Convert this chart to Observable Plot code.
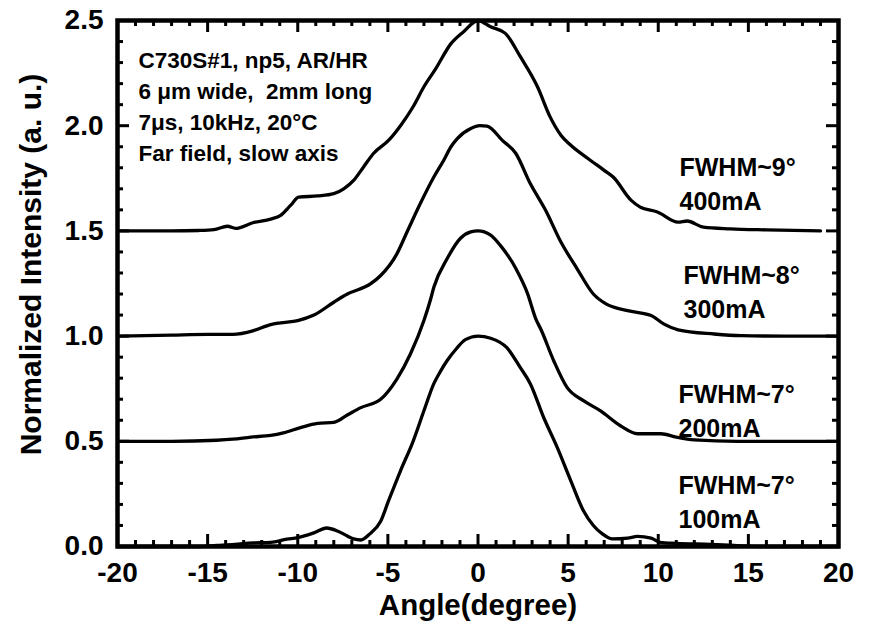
<!DOCTYPE html>
<html>
<head>
<meta charset="utf-8">
<script src="https://cdn.jsdelivr.net/npm/d3@7"></script>
<script src="https://cdn.jsdelivr.net/npm/@observablehq/plot@0.6"></script>
<style>
  html, body { margin: 0; padding: 0; background: #fff; }
  #chart { width: 873px; height: 627px; }
  #chart svg text { white-space: pre; }
</style>
</head>
<body>
<div id="chart"></div>
<script>
// ---- data ----
const angle100 = [-20, -17, -15.5, -14.5, -13.5, -12.5, -11.5, -10.6, -10.0, -9.1, -8.4, -7.8, -7.25, -6.9, -6.5, -6.0, -5.4, -4.95, -4.3, -3.6, -3.0, -2.45, -2.1, -1.7, -1.2, -0.7, 0, 0.7, 1.6, 2.35, 2.9, 3.65, 4.4, 5.15, 5.85, 6.4, 6.9, 7.45, 8.3, 8.85, 9.6, 10.1, 11.0, 12.9, 14.2, 16, 20];
const int100   = [0, 0, 0, 0.005, 0.01, 0.017, 0.02, 0.035, 0.042, 0.065, 0.088, 0.074, 0.05, 0.036, 0.031, 0.06, 0.12, 0.22, 0.36, 0.50, 0.645, 0.774, 0.83, 0.885, 0.94, 0.983, 1.0, 0.99, 0.945, 0.85, 0.774, 0.612, 0.47, 0.312, 0.17, 0.10, 0.06, 0.036, 0.04, 0.048, 0.04, 0.02, 0.015, 0.01, 0.005, 0, 0];

const angle200 = [-20, -17, -14.5, -13.6, -12.6, -11.5, -10.8, -9.85, -8.9, -8.0, -7.25, -6.5, -5.4, -4.5, -3.75, -3.0, -2.65, -2.45, -1.7, -0.97, -0.4, 0, 0.7, 1.25, 2.1, 2.75, 3.2, 3.5, 4.2, 4.95, 5.85, 6.8, 7.9, 8.85, 10.15, 11.0, 12.0, 14.4, 17, 20];
const int200   = [0.5, 0.5, 0.505, 0.51, 0.52, 0.528, 0.54, 0.565, 0.585, 0.59, 0.625, 0.66, 0.70, 0.796, 0.915, 1.074, 1.169, 1.232, 1.37, 1.465, 1.495, 1.5, 1.48, 1.43, 1.321, 1.202, 1.083, 1.03, 0.883, 0.755, 0.693, 0.645, 0.574, 0.536, 0.536, 0.52, 0.507, 0.5, 0.5, 0.5];

const angle300 = [-20, -17, -15, -13.6, -12.45, -11.5, -10.95, -10.0, -9.1, -8.0, -7.25, -5.95, -5.4, -4.5, -3.9, -3.2, -2.45, -1.9, -1.5, -1.15, -0.4, 0.1, 0.5, 1.35, 2.1, 2.9, 3.75, 4.6, 5.5, 6.4, 7.1, 8.3, 9.6, 10.3, 11.1, 13.1, 14.6, 17, 20];
const int300   = [1.0, 1.005, 1.008, 1.008, 1.026, 1.055, 1.063, 1.074, 1.1, 1.161, 1.20, 1.249, 1.288, 1.391, 1.502, 1.63, 1.756, 1.836, 1.90, 1.939, 1.987, 2.0, 1.998, 1.93, 1.868, 1.725, 1.598, 1.447, 1.32, 1.20, 1.153, 1.121, 1.098, 1.058, 1.03, 1.01, 1.002, 1.0, 1.0];

const angle400 = [-20, -17, -15.5, -14.65, -13.9, -13.45, -12.45, -11.5, -10.95, -10.4, -9.95, -8.9, -8.0, -7.45, -6.9, -6.35, -5.8, -4.95, -4.3, -3.6, -3.0, -2.35, -1.5, -0.8, 0, 0.7, 1.5, 2.35, 3.3, 4.0, 4.6, 5.15, 6.1, 7.0, 7.5, 8.5, 9.0, 9.95, 11.1, 11.6, 12.5, 14.0, 16.0, 19.0];
const int400   = [1.5, 1.5, 1.502, 1.506, 1.522, 1.512, 1.54, 1.556, 1.574, 1.621, 1.66, 1.666, 1.677, 1.70, 1.74, 1.804, 1.868, 1.931, 2.0, 2.09, 2.185, 2.27, 2.39, 2.447, 2.5, 2.47, 2.44, 2.328, 2.185, 2.042, 1.955, 1.907, 1.844, 1.788, 1.756, 1.645, 1.613, 1.59, 1.542, 1.547, 1.518, 1.51, 1.505, 1.5];

const currents = ["100mA", "200mA", "300mA", "400mA"];
const fwhmLabels = ["FWHM~7°\n100mA", "FWHM~7°\n200mA", "FWHM~8°\n300mA", "FWHM~9°\n400mA"];
const infoLines = ["C730S#1, np5, AR/HR", "6 μm wide,  2mm long", "7μs, 10kHz, 20°C", "Far field, slow axis"];

const xMajor = [-20, -15, -10, -5, 0, 5, 10, 15, 20];
const xMinor = d3.range(-20, 21, 1).filter(v => v % 5 !== 0);
const yMajor = [0, 0.5, 1.0, 1.5, 2.0, 2.5];
const yMinor = d3.range(0, 26, 1).filter(v => v % 5 !== 0).map(v => v / 10);

const xLabel = "Angle(degree)";
const yLabel = "Normalized Intensity (a. u.)";

// ---- build table ----
const seriesAngles = [angle100, angle200, angle300, angle400];
const seriesInts = [int100, int200, int300, int400];
const rows = [];
currents.forEach((c, k) => {
  seriesAngles[k].forEach((a, i) => rows.push({current: c, angle: a, intensity: seriesInts[k][i]}));
});

const W = 873, H = 627;
const mL = 117, mR = 35, mT = 20, mB = 81;
const pw = W - mL - mR, ph = H - mT - mB;
const font = "'Liberation Sans', Arial, Helvetica, sans-serif";
const majorLen = 12, minorLen = 6;

// label offsets (layout), one per curve label
const labelDx = [561, 561, 566, 562];
const labelDy = [450, 359, 240, 132];

const marks = [
  Plot.line(rows, {x: "angle", y: "intensity", z: "current", stroke: "black", strokeWidth: 3.3, curve: "monotone-x", strokeLinejoin: "round"}),
  // inward ticks: bottom & top
  Plot.tickX(xMajor, {x: d => d, stroke: "black", strokeWidth: 3, insetTop: ph - majorLen}),
  Plot.tickX(xMinor, {x: d => d, stroke: "black", strokeWidth: 3, insetTop: ph - minorLen}),
  Plot.tickX(xMajor, {x: d => d, stroke: "black", strokeWidth: 3, insetBottom: ph - majorLen}),
  Plot.tickX(xMinor, {x: d => d, stroke: "black", strokeWidth: 3, insetBottom: ph - minorLen}),
  // inward ticks: left & right
  Plot.tickY(yMajor, {y: d => d, stroke: "black", strokeWidth: 3, insetRight: pw - majorLen}),
  Plot.tickY(yMinor, {y: d => d, stroke: "black", strokeWidth: 3, insetRight: pw - minorLen}),
  Plot.tickY(yMajor, {y: d => d, stroke: "black", strokeWidth: 3, insetLeft: pw - majorLen}),
  Plot.tickY(yMinor, {y: d => d, stroke: "black", strokeWidth: 3, insetLeft: pw - minorLen}),
  Plot.frame({stroke: "black", strokeWidth: 4.5}),
  Plot.axisX({ticks: xMajor, tickSize: 0, tickPadding: 16, fontSize: 28, fontWeight: "bold", tickFormat: d => String(d), label: null}),
  Plot.axisY({ticks: yMajor, tickSize: 0, tickPadding: 14, fontSize: 28, fontWeight: "bold", tickFormat: d => d.toFixed(1), label: null}),
  Plot.text([xLabel], {text: d => d, frameAnchor: "bottom", lineAnchor: "middle", textAnchor: "middle", dy: 59, fontSize: 29.5, fontWeight: "bold"}),
  Plot.text([yLabel], {text: d => d, frameAnchor: "left", lineAnchor: "middle", textAnchor: "middle", rotate: -90, dx: -86, dy: -19, fontSize: 30, fontWeight: "bold"}),
  Plot.text([infoLines.join("\n")], {text: d => d, frameAnchor: "top-left", lineAnchor: "top", textAnchor: "start", dx: 21, dy: 25, lineHeight: 1.38, fontSize: 22.5, fontWeight: "bold"}),
  ...fwhmLabels.map((t, k) => Plot.text([t], {text: d => d, frameAnchor: "top-left", lineAnchor: "top", textAnchor: "start", dx: labelDx[k], dy: labelDy[k], lineHeight: 1.34, fontSize: 25, fontWeight: "bold"}))
];

const chart = Plot.plot({
  width: W, height: H,
  marginLeft: mL, marginRight: mR, marginTop: mT, marginBottom: mB,
  x: {domain: [-20, 20]},
  y: {domain: [0, 2.5]},
  style: {fontFamily: font, fontWeight: "bold", color: "black", background: "white", overflow: "visible"},
  marks
});
document.getElementById("chart").appendChild(chart);
</script>
</body>
</html>
